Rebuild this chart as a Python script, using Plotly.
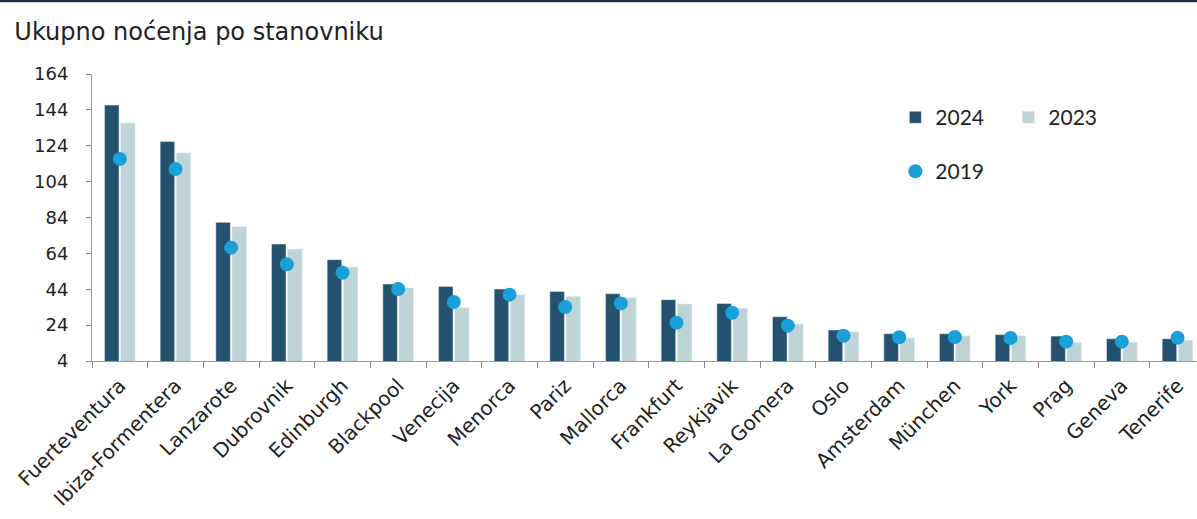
import plotly.graph_objects as go

cities = ["Fuerteventura", "Ibiza-Formentera", "Lanzarote", "Dubrovnik", "Edinburgh",
          "Blackpool", "Venecija", "Menorca", "Pariz", "Mallorca", "Frankfurt",
          "Reykjavik", "La Gomera", "Oslo", "Amsterdam", "München", "York", "Prag",
          "Geneva", "Tenerife"]
v2024 = [146.7, 126.4, 81.3, 69.2, 60.5, 46.9, 45.6, 44.1, 42.8, 41.5, 38.2,
         36.1, 28.7, 21.3, 19.2, 19.2, 18.7, 17.9, 16.4, 16.4]
v2023 = [136.7, 120.0, 78.9, 66.4, 56.4, 44.7, 33.7, 41.0, 40.1, 39.3, 35.8,
         33.4, 24.6, 20.3, 16.8, 18.1, 18.1, 14.4, 14.4, 15.7]
v2019 = [116.6, 111.0, 67.2, 57.9, 53.2, 44.1, 36.9, 41.0, 34.1, 36.1, 25.3,
         30.9, 23.7, 18.1, 17.2, 17.4, 16.8, 14.8, 14.8, 17.0]
y_ticks = [4, 24, 44, 64, 84, 104, 124, 144, 164]
title_text = "Ukupno noćenja po stanovniku"

fig = go.Figure()
fig.add_trace(go.Bar(x=cities, y=v2024, name="2024", marker_color="#24526e",
                     legend="legend"))
fig.add_trace(go.Bar(x=cities, y=v2023, name="2023", marker_color="#bfd4d7",
                     legend="legend"))
fig.add_trace(go.Scatter(x=cities, y=v2019, name="2019", mode="markers",
                         marker=dict(color="#1aa0d8", size=14), legend="legend2",
                         cliponaxis=False))

fig.update_layout(
    width=1197, height=519,
    margin=dict(l=92, r=0, t=74, b=158),
    paper_bgcolor="white", plot_bgcolor="white",
    barmode="group", bargap=0.42, bargroupgap=0.1,
    font=dict(family="DejaVu Sans", color="#222222"),
    title=dict(text=title_text, x=0.012, xanchor="left", y=0.94, yanchor="middle",
               font=dict(family="DejaVu Sans", size=24, color="#222222")),
    showlegend=True,
    legend=dict(orientation="h", x=0.727, xanchor="left", y=0.848, yanchor="middle",
                font=dict(family="Lato", size=21), entrywidth=68,
                bgcolor="rgba(0,0,0,0)", traceorder="normal"),
    legend2=dict(orientation="h", x=0.727, xanchor="left", y=0.66, yanchor="middle",
                 font=dict(family="Lato", size=21), bgcolor="rgba(0,0,0,0)"),
    shapes=[dict(type="line", xref="paper", yref="paper", x0=-0.1, x1=1.1,
                 y0=1.255, y1=1.255, line=dict(color="#1f2d3a", width=3))],
)
fig.update_xaxes(type="category", range=[-0.5, 19.35], tickangle=-45, ticks="outside",
                 tickson="boundaries", ticklen=6, tickcolor="#888888", showline=True,
                 linecolor="#999999", linewidth=1, ticklabelstandoff=4,
                 tickfont=dict(family="DejaVu Sans", size=20, color="#222222"),
                 showgrid=False)
fig.update_yaxes(range=[4, 164], tickvals=y_ticks, ticks="outside", ticklen=5,
                 tickcolor="#888888", showline=True, linecolor="#999999", linewidth=1,
                 showgrid=False, zeroline=False, ticklabelstandoff=14,
                 tickfont=dict(family="DejaVu Sans", size=18, color="#222222"))

fig.write_html("out.html")
